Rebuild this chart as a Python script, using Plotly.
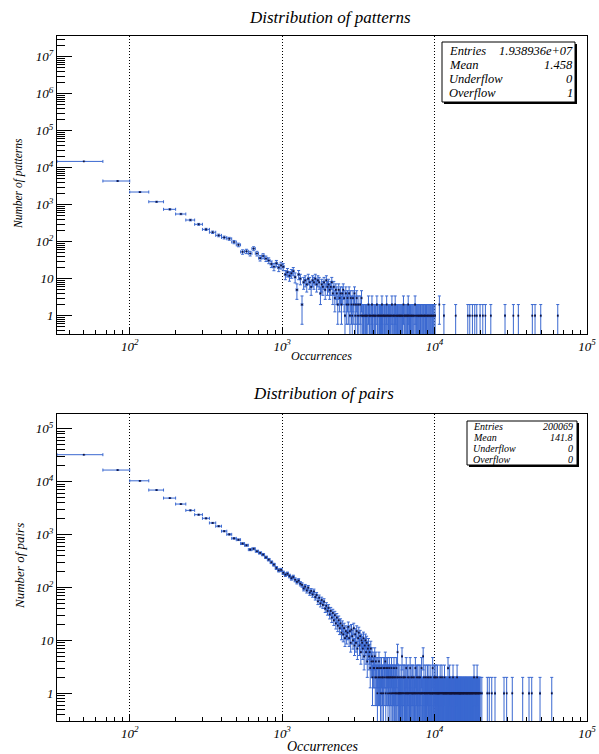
import numpy as np
import plotly.graph_objects as go

W, H = 599, 754
BIN_W = 100000.0 / 3000.0
BLUE = '#3a68d0'
MARK = '#141438'
FONT = 'Liberation Serif'

# ---------------- data: Distribution of patterns ----------------
pat_low_counts = [14800, 4370, 2200, 1200, 750, 560, 385, 295, 215, 180, 148, 130, 120, 98, 82,
                  53, 55, 48, 65, 48, 36, 41, 35, 31, 25, 21, 26, 20, 23]          # bins 1..29
pat_mid_counts = [21, 13, 15, 12, 14, 16, 11, 5, 13, 10,
                  2, 8, 9, 7, 10, 8, 6, 9, 8, 10,
                  7, 9, 8, 4, 7, 6, 8, 5, 9, 6,
                  7, 5, 6, 8, 4, 6, 3, 5, 4, 2,
                  5, 3, 4, 2, 4, 5, 3, 1, 4, 2,
                  3, 2, 4, 1, 3, 2, 1, 3, 2, 4,
                  1, 2, 3, 1, 2, 1, 0, 2, 1, 3,
                  1, 1, 1, 0, 1, 1, 1, 1, 1, 0,
                  2, 1, 1, 1, 0, 1, 2, 1, 1, 0,
                  1, 1, 1, 1, 0, 2, 1, 1, 0, 1,
                  1, 0, 1, 1, 1, 2, 1, 1, 0, 1,
                  1, 1, 0, 1, 1, 2, 1, 0, 1, 1,
                  0, 1, 1, 0, 1, 1, 0, 2, 1, 0,
                  1, 0, 1, 1, 0, 2, 1, 0, 1, 0,
                  1, 1, 0, 1, 0, 1, 0, 1, 1, 0,
                  1, 0, 1, 0, 1, 1, 0, 2, 0, 1,
                  0, 1, 1, 0, 0, 1, 0, 1, 0, 1,
                  1, 2, 0, 1, 0, 1, 0, 0, 1, 0,
                  1, 0, 1, 0, 0, 1, 0, 1, 0, 0,
                  1, 0, 0, 2, 0, 1, 0, 0, 1, 0,
                  0, 1, 0, 0, 1, 0, 1, 0, 0, 1,
                  0, 0, 1, 0, 1, 0, 0, 1, 0, 0,
                  1, 0, 0, 1, 0, 0, 1, 0, 0, 1,
                  0, 1, 0, 0, 0, 1, 0, 0, 1, 0,
                  0, 1, 0, 0, 1, 0, 0, 0, 1, 0,
                  0, 1, 0, 0, 1, 0, 0, 1, 0, 0,
                  1, 0, 0, 0, 1, 0, 0, 1, 0, 0]                                   # bins 30..299
pat_far_bins = [302, 322, 345, 412, 495, 510, 531, 550, 567, 596, 621, 646, 701, 869, 986,
                1063, 1313, 1368, 1491, 1928]
pat_far_counts = [1, 2, 1, 1, 1, 1, 1, 1, 1, 1, 1, 1, 1, 1, 1, 1, 1, 1, 1, 1]
pat_stats = [('Entries', '1.938936e+07'), ('Mean', '1.458'), ('Underflow', '0'), ('Overflow', '1')]

# ---------------- data: Distribution of pairs ----------------
pair_low_counts = [32400, 16600, 10400, 6950, 4900, 3780, 2870, 2380, 2030, 1660, 1440, 1160, 1010,
                   850, 800, 676, 628, 520, 540, 484, 450, 418, 372, 336, 300, 270, 234, 211, 215]  # bins 1..29
pair_mid_counts = [190, 175, 182, 165, 150, 158, 140, 128, 135, 118,
                   112, 96, 104, 88, 99, 80, 86, 74, 84, 66,
                   72, 55, 64, 50, 58, 47, 54, 40, 45, 36,
                   41, 31, 36, 27, 33, 24, 30, 21, 27, 19,
                   24, 17, 21, 14, 19, 13, 17, 11, 15, 12,
                   14, 18, 11, 15, 9, 16, 12, 10, 17, 8,
                   13, 9, 15, 7, 11, 14, 8, 12, 6, 10,
                   9, 7, 11, 5, 8, 10, 6, 9, 4, 7,
                   8, 5, 6, 3, 7, 4, 5, 2, 4, 3,
                   3, 5, 2, 4, 2, 3, 1, 3, 2, 4,
                   2, 3, 1, 2, 3, 1, 2, 2, 1, 3,
                   3, 2, 4, 1, 3, 2, 2, 3, 1, 2,
                   2, 3, 1, 2, 2, 1, 3, 2, 1, 2,
                   1, 2, 3, 1, 2, 1, 2, 1, 3, 1,
                   2, 6, 1, 2, 1, 1, 1, 2, 1, 1,
                   1, 2, 1, 5, 1, 1, 2, 0, 1, 2,
                   1, 0, 2, 1, 1, 3, 1, 0, 1, 2,
                   1, 1, 0, 2, 1, 1, 0, 3, 1, 1,
                   2, 0, 1, 1, 2, 0, 1, 1, 0, 2,
                   1, 1, 0, 1, 3, 1, 0, 1, 2, 0,
                   1, 1, 2, 0, 1, 0, 1, 2, 1, 0,
                   1, 2, 0, 1, 1, 0, 3, 1, 0, 1,
                   1, 0, 5, 1, 0, 2, 1, 0, 1, 1,
                   0, 1, 2, 0, 1, 1, 0, 1, 0, 2,
                   1, 0, 1, 1, 0, 2, 1, 0, 1, 0,
                   1, 1, 0, 2, 1, 0, 1, 0, 1, 1,
                   0, 3, 1, 0, 1, 1, 0, 2, 1, 0]                                  # bins 30..299
pair_high_counts = [1, 2, 1, 0, 1, 1, 2, 1, 0, 1,
                    1, 0, 1, 2, 1, 1, 0, 1, 1, 0,
                    1, 1, 0, 1, 1, 0, 2, 1, 1, 0,
                    0, 1, 1, 0, 1, 2, 0, 1, 1, 0,
                    1, 0, 1, 1, 0, 1, 1, 0, 2, 1,
                    0, 1, 1, 0, 1, 0, 1, 1, 0, 1,
                    1, 0, 1, 0, 1, 1, 0, 3, 1, 0,
                    1, 1, 0, 1, 0, 1, 2, 0, 1, 1,
                    0, 1, 0, 1, 1, 0, 1, 0, 1, 1,
                    0, 1, 1, 0, 1, 0, 2, 1, 0, 1,
                    1, 0, 1, 0, 1, 1, 0, 1, 0, 1,
                    0, 1, 1, 0, 1, 0, 1, 0, 1, 0,
                    1, 2, 0, 1, 0, 1, 1, 0, 1, 0,
                    1, 0, 1, 0, 1, 0, 1, 1, 0, 1,
                    0, 1, 0, 1, 1, 0, 1, 0, 0, 1,
                    1, 0, 1, 0, 1, 0, 0, 1, 1, 0,
                    1, 0, 1, 0, 0, 1, 0, 1, 0, 1,
                    0, 1, 0, 1, 0, 0, 1, 1, 0, 1,
                    0, 1, 0, 0, 1, 0, 1, 0, 1, 0,
                    1, 0, 1, 0, 0, 1, 0, 1, 0, 0,
                    1, 0, 1, 0, 1, 0, 0, 1, 0, 1,
                    0, 1, 0, 0, 1, 0, 1, 0, 0, 1,
                    0, 1, 0, 1, 0, 0, 1, 0, 1, 0,
                    0, 1, 0, 0, 1, 0, 1, 0, 0, 1,
                    0, 1, 0, 0, 2, 0, 1, 0, 0, 1,
                    0, 0, 1, 0, 1, 0, 0, 1, 0, 0,
                    1, 0, 0, 1, 0, 1, 0, 0, 1, 0,
                    2, 0, 1, 0, 0, 1, 0, 0, 1, 0,
                    0, 1, 0, 0, 1, 0, 0, 1, 0, 0,
                    1, 0, 0, 1, 0, 0, 0, 1, 0, 0]                                 # bins 300..599
pair_far_bins = [612, 665, 685, 711, 747, 856, 891, 970, 1135, 1249, 1301, 1475, 1761]
pair_far_counts = [1, 1, 1, 1, 1, 1, 1, 1, 1, 1, 1, 1, 1]
pair_stats = [('Entries', '200069'), ('Mean', '141.8'), ('Underflow', '0'), ('Overflow', '0')]

x_tick_vals = [100, 1000, 10000, 100000]
x_tick_text = ['10<sup>2</sup>', '10<sup>3</sup>', '10<sup>4</sup>', '10<sup>5</sup>']
pat_y_vals = [1, 10, 100, 1000, 1e4, 1e5, 1e6, 1e7]
pat_y_text = ['1', '10', '10<sup>2</sup>', '10<sup>3</sup>', '10<sup>4</sup>', '10<sup>5</sup>',
              '10<sup>6</sup>', '10<sup>7</sup>']
pair_y_vals = [1, 10, 100, 1000, 1e4, 1e5]
pair_y_text = ['1', '10', '10<sup>2</sup>', '10<sup>3</sup>', '10<sup>4</sup>', '10<sup>5</sup>']


def build(first_start, parts, far_bins, far_counts):
    bins, counts = [], []
    start = first_start
    for p in parts:
        bins += list(range(start, start + len(p)))
        counts += p
        start += len(p)
    bins += far_bins
    counts += far_counts
    b = np.array(bins, float)
    c = np.array(counts, float)
    m = c > 0
    return (b[m] + 0.5) * BIN_W, c[m]


px_, py_ = build(1, [pat_low_counts, pat_mid_counts], pat_far_bins, pat_far_counts)
qx_, qy_ = build(1, [pair_low_counts, pair_mid_counts, pair_high_counts], pair_far_bins, pair_far_counts)


def fx(p):
    return p / W


def fy(p):
    return 1 - p / H


fig = go.Figure()
for xs, ys, xa, ya in [(px_, py_, 'x', 'y'), (qx_, qy_, 'x2', 'y2')]:
    fig.add_trace(go.Scatter(
        x=xs, y=ys, mode='markers', xaxis=xa, yaxis=ya, showlegend=False, hoverinfo='skip',
        marker=dict(size=1.7, color=MARK, symbol='square', line=dict(width=0)),
        error_x=dict(type='data', array=[BIN_W / 2] * len(xs), color=BLUE, thickness=1, width=1.5),
        error_y=dict(type='data', array=np.sqrt(ys), color=BLUE, thickness=1, width=1.5),
    ))

minor_x = [m * 10 ** k for k in range(1, 5) for m in range(2, 10)]
minor_y = [m * 10 ** k for k in range(-1, 8) for m in range(2, 10)]

tickfont = dict(family=FONT, size=13, style='italic', color='black')


def xaxis(dom_anchor):
    return dict(type='log', range=[np.log10(BIN_W), 5], domain=[fx(57), fx(587)], anchor=dom_anchor,
                automargin=False,
                showline=True, mirror=True, linecolor='black', linewidth=1,
                ticks='inside', ticklen=7, tickcolor='black', tickwidth=1,
                tickmode='array', tickvals=x_tick_vals, ticktext=x_tick_text, tickfont=tickfont,
                showgrid=True, gridcolor='black', griddash='1px,2px', gridwidth=1, zeroline=False,
                minor=dict(ticks='inside', ticklen=4, tickcolor='black', tickmode='array',
                           tickvals=minor_x, showgrid=False))


def yaxis(rng, dom, anchor, vals, text):
    return dict(type='log', range=rng, domain=dom, anchor=anchor, automargin=False,
                showline=True, mirror=True, linecolor='black', linewidth=1,
                ticks='inside', ticklen=15, tickcolor='black', tickwidth=1,
                tickmode='array', tickvals=vals, ticktext=text, tickfont=tickfont,
                showgrid=False, zeroline=False,
                minor=dict(ticks='inside', ticklen=8, tickcolor='black', tickmode='array',
                           tickvals=minor_y, showgrid=False))


fig.update_layout(
    width=W, height=H, margin=dict(l=0, r=0, t=0, b=0, autoexpand=False),
    paper_bgcolor='white', plot_bgcolor='white',
    xaxis=xaxis('y'),
    yaxis=yaxis([-0.495, 7.56], [fy(334), fy(36)], 'x', pat_y_vals, pat_y_text),
    xaxis2=xaxis('y2'),
    yaxis2=yaxis([-0.524, 5.28], [fy(721), fy(414)], 'x2', pair_y_vals, pair_y_text),
)

ann = []
shapes = []


def text(x, y, s, size, anchor='center', angle=0):
    ann.append(dict(x=fx(x), y=fy(y), xref='paper', yref='paper', text=s, showarrow=False,
                    xanchor=anchor, yanchor='middle', textangle=angle,
                    font=dict(family=FONT, size=size, style='italic', color='black')))


text(330, 18, 'Distribution of patterns', 17)
text(323, 393, 'Distribution of pairs', 17)
text(19, 184, 'Number of patterns', 11.5, angle=-90)
text(19, 566, 'Number of pairs', 13, angle=-90)
text(321, 356, 'Occurrences', 12)
text(323, 746, 'Occurrences', 14)


def statbox(x0, y0, x1, y1, rows, row_y, lx, rx, size):
    shapes.append(dict(type='rect', xref='paper', yref='paper', x0=fx(x0 + 2), x1=fx(x1 + 2),
                       y0=fy(y1 + 2), y1=fy(y0 + 2), fillcolor='black', line=dict(width=0)))
    shapes.append(dict(type='rect', xref='paper', yref='paper', x0=fx(x0), x1=fx(x1),
                       y0=fy(y1), y1=fy(y0), fillcolor='white', line=dict(color='black', width=1)))
    for (lab, val), yy in zip(rows, row_y):
        text(lx, yy, lab, size, anchor='left')
        text(rx, yy, val, size, anchor='right')


statbox(442, 42, 575, 102, pat_stats, [50.5, 64.5, 78.7, 93.3], 447, 575, 12.5)
statbox(467, 421, 577, 465, pair_stats, [426.5, 437.5, 448.5, 459.5], 471, 575, 10)

fig.update_layout(annotations=ann, shapes=shapes)
fig.write_html('out.html')
